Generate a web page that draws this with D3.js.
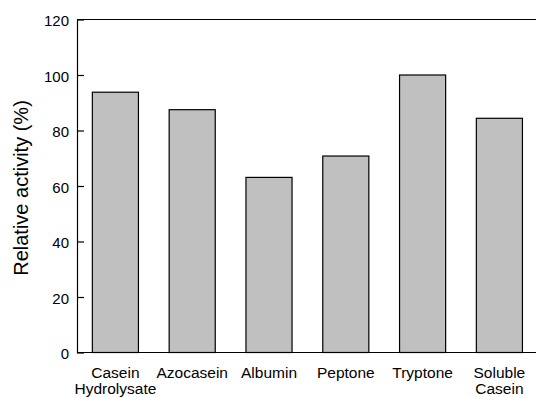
<!DOCTYPE html>
<html>
<head>
<meta charset="utf-8">
<script src="https://cdn.jsdelivr.net/npm/d3@7"></script>
<style>
    body { margin: 0; background: #fff; }
    svg { display: block; font-family: "Liberation Sans", Arial, sans-serif; }
</style>
</head>
<body>
<svg id="chart"></svg>
<script>

// DATA

const substrates = ["Casein|Hydrolysate", "Azocasein", "Albumin", "Peptone", "Tryptone", "Soluble|Casein"];
const activity = [93.8, 87.5, 63.1, 70.8, 100, 84.4];
const yTicks = [0, 20, 40, 60, 80, 100, 120];


// CHART

const width = 536;
const height = 397;

const svg = d3.select("#chart")
    .attr("width", width)
    .attr("height", height);

const plotLeft = 77;
const plotTop = 19.5;
const plotBottom = 352.5;
const plotRight = 77 + 6 * 76.8;

const x = d3.scaleBand()
    .domain(substrates)
    .range([plotLeft, plotRight])
    .paddingInner(0.4)
    .paddingOuter(0.2);

const y = d3.scaleLinear()
    .domain([0, 120])
    .range([plotBottom, plotTop]);

// bars
svg.selectAll("rect.bar")
    .data(substrates)
    .enter()
    .append("rect")
    .attr("class", "bar")
    .attr("x", d => x(d))
    .attr("y", (d, i) => y(activity[i]))
    .attr("width", x.bandwidth())
    .attr("height", (d, i) => plotBottom - y(activity[i]))
    .attr("fill", "#c0c0c0")
    .attr("stroke", "#000")
    .attr("stroke-width", 1.2);

// top frame line
svg.append("line")
    .attr("x1", plotLeft)
    .attr("x2", plotRight)
    .attr("y1", plotTop)
    .attr("y2", plotTop)
    .attr("stroke", "#000")
    .attr("stroke-width", 1.2);

// y axis, ticks pointing inward
const yAxis = svg.append("g")
    .attr("transform", "translate(" + plotLeft + ",0)")
    .call(d3.axisRight(y).tickValues(yTicks).tickSize(7).tickSizeOuter(0));

yAxis.select(".domain").attr("stroke-width", 1.2);
yAxis.selectAll(".tick line").attr("stroke-width", 1.2);
yAxis.selectAll(".tick text")
    .attr("x", -8)
    .attr("dy", "0.42em")
    .attr("text-anchor", "end")
    .attr("font-size", 15)
    .attr("font-family", "Liberation Sans, Arial, sans-serif")
    .attr("fill", "#000");

// x axis line
svg.append("line")
    .attr("x1", plotLeft)
    .attr("x2", plotRight)
    .attr("y1", plotBottom)
    .attr("y2", plotBottom)
    .attr("stroke", "#000")
    .attr("stroke-width", 1.2);

// category labels
const labels = svg.selectAll("text.cat")
    .data(substrates)
    .enter()
    .append("text")
    .attr("class", "cat")
    .attr("text-anchor", "middle")
    .attr("font-size", 15.5)
    .attr("fill", "#000");

labels.each(function (d) {
    const parts = d.split("|");
    const t = d3.select(this);
    parts.forEach(function (p, i) {
        t.append("tspan")
            .attr("x", x(d) + x.bandwidth() / 2)
            .attr("y", 378 + i * 16)
            .text(p);
    });
});

// y axis title
svg.append("text")
    .attr("transform", "translate(28,188) rotate(-90)")
    .attr("text-anchor", "middle")
    .attr("font-size", 20)
    .attr("fill", "#000")
    .text("Relative activity (%)");

</script>
</body>
</html>
